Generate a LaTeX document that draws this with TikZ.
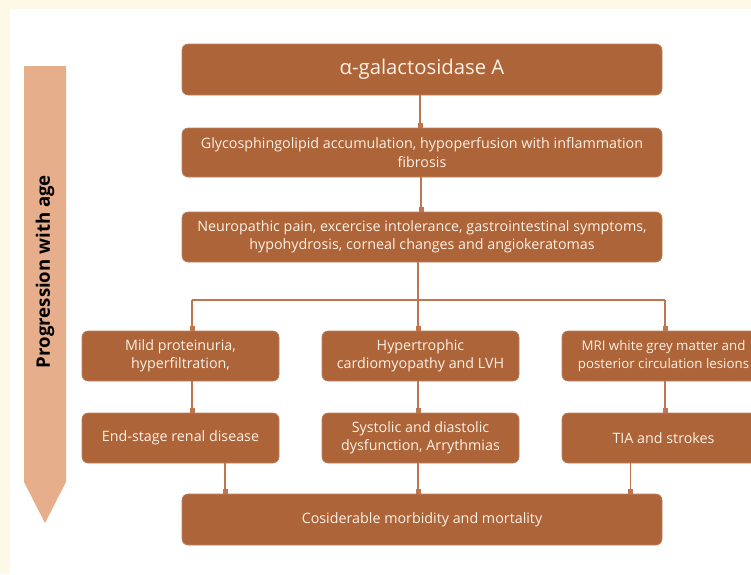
\documentclass[tikz,border=0pt]{standalone}
\usepackage{fontspec}
\setmainfont{Open Sans}
\usetikzlibrary{arrows.meta}
\definecolor{cream}{HTML}{FEF9E7}
\definecolor{boxfill}{HTML}{AD6438}
\definecolor{linecol}{HTML}{BE7650}
\definecolor{arrowfill}{HTML}{E6AE8B}
\definecolor{boxtext}{HTML}{FDF1E6}
\tikzset{
  x=1pt, y=-1pt,
  box/.style={draw=boxfill!80!white, line width=0.6pt, fill=boxfill, rounded corners=6pt, text=boxtext,
    align=center, inner sep=0pt, font=\fontsize{14.3}{18.5}\selectfont},
  widebox/.style={box, minimum width=480pt},
  smallbox/.style={box, minimum width=197pt, minimum height=50pt},
  conn/.style={draw=linecol, line width=1.3pt},
  sqend/.style={conn, -{Square[length=5pt,width=5pt]}},
}
\begin{document}
\begin{tikzpicture}
\useasboundingbox (0,0) rectangle (751,574);
\fill[cream] (0,0) rectangle (751,574);
\fill[white] (10,9) rectangle (751,574);
% progression arrow
\fill[arrowfill] (24,66) -- (66,66) -- (66,482) -- (45,523) -- (24,482) -- cycle;
\node[rotate=90, font=\bfseries\fontsize{18.6}{22}\selectfont, text=black] (prog) at (45,271.5) {Progression with age};
% main boxes
\node[widebox, minimum height=51pt, font=\fontsize{20.3}{24}\selectfont] (b1) at (422,69.5) {α-galactosidase A};
\node[widebox, minimum height=49pt] (b2) at (422,152.5) {Glycosphingolipid accumulation, hypoperfusion with inflammation\\fibrosis};
\node[widebox, minimum height=50pt] (b3) at (422,237) {Neuropathic pain, excercise intolerance, gastrointestinal symptoms,\\hypohydrosis, corneal changes and angiokeratomas};
\node[smallbox] (l1) at (180.5,356) {Mild proteinuria,\\hyperfiltration,};
\node[smallbox] (m1) at (420.5,356) {Hypertrophic\\cardiomyopathy and LVH};
\node[smallbox, minimum width=203pt, font=\fontsize{13.3}{18.5}\selectfont] (r1) at (663.5,356) {MRI white grey matter and\\posterior circulation lesions};
\node[smallbox] (l2) at (180.5,438) {End-stage renal disease};
\node[smallbox] (m2) at (420.5,438) {Systolic and diastolic\\dysfunction, Arrythmias};
\node[smallbox, minimum width=203pt] (r2) at (663.5,438) {TIA and strokes};
\node[widebox, minimum height=51pt] (b4) at (422,519.5) {Cosiderable morbidity and mortality};
% connectors
\draw[sqend] ([xshift=-2pt]b1.south) -- ([xshift=-2pt]b2.north);
\draw[sqend] ([xshift=-1pt]b2.south) -- ([xshift=-1pt]b3.north);
\coordinate (busl) at (192,300);
\coordinate (busr) at (665,300);
\draw[conn] ([xshift=-4pt]b3.south) -- ([xshift=-4pt]b3.south |- busl);
\draw[conn] (busl) -- (busr);
\draw[sqend] (busl) -- (busl |- l1.north);
\draw[sqend] ([xshift=-4pt]b3.south |- busl) -- ([xshift=-2.5pt]m1.north);
\draw[sqend] (busr) -- (busr |- r1.north);
\draw[sqend] ([xshift=11.5pt]l1.south) -- ([xshift=11.5pt]l2.north);
\draw[sqend] ([xshift=-2.5pt]m1.south) -- ([xshift=-2.5pt]m2.north);
\draw[sqend] ([xshift=1.5pt]r1.south) -- ([xshift=1.5pt]r2.north);
\coordinate (dl) at (225,0);
\coordinate (dr) at (630.5,0);
\draw[sqend] (l2.south -| dl) -- (b4.north -| dl);
\draw[sqend] ([xshift=-2.5pt]m2.south) -- ([xshift=-2.5pt]m2.south |- b4.north);
\draw[sqend] (r2.south -| dr) -- (b4.north -| dr);
\end{tikzpicture}
\end{document}
